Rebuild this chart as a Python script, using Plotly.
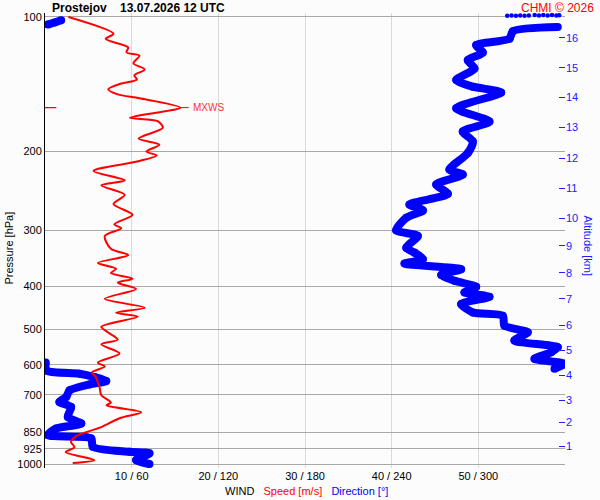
import math
import plotly.graph_objects as go

# wind speed profile (red) - pressure [hPa] / speed [m/s]
speed_pressure = [100, 109, 112, 117, 120, 122, 127, 131, 135, 138,
                  141, 145, 149, 152, 159.5, 168, 171, 177, 187, 193,
                  200, 204, 210, 221, 232, 238, 250, 262, 277, 291,
                  297, 309, 330, 341, 355, 366, 374, 385, 393, 406,
                  427, 447, 459, 468, 493, 508, 527, 540, 566, 593,
                  605, 624, 640, 657, 674, 702, 728, 739, 766, 790,
                  827, 866, 893, 917, 940, 980, 995]
speed_ms = [2.7, 7.9, 7.0, 9.6, 9.4, 10.9, 10.2, 11.5, 10.3, 10.6,
            8.7, 7.3, 8.4, 10.9, 15.6, 9.8, 13.0, 13.6, 10.8, 13.2,
            11.7, 12.9, 10.9, 5.6, 9.2, 6.5, 9.2, 7.9, 10.1, 8.0,
            8.8, 6.9, 7.6, 9.6, 6.1, 8.2, 7.6, 10.1, 8.4, 10.5,
            6.9, 11.5, 8.2, 10.7, 6.5, 7.3, 8.4, 6.5, 8.6, 6.1,
            6.9, 5.4, 5.9, 6.1, 6.3, 6.5, 7.6, 7.1, 11.1, 8.6,
            6.5, 3.6, 3.0, 3.4, 2.4, 5.7, 3.2]

# wind direction profile (blue), split where it wraps 360 -> 0
dir_top_p = [101.7, 102.9, 104.0]
dir_top_deg = [11.2, 6.6, 1.9]
dir_mid_p = [105.3, 107.6, 111.8, 115.6, 120.1, 124.9, 130.4, 138.3, 143.2, 147.5,
             160.1, 171.4, 180.4, 189.9, 201.6, 219.5, 225.2, 237.0, 248.7, 262.6,
             270.8, 281.3, 300.1, 309.0, 328.1, 336.6, 348.3, 356.2, 366.6, 377.5,
             389.3, 401.4, 413.4, 422.6, 438.6, 458.0, 465.8, 490.3, 507.4, 529.4,
             547.9, 562.1, 581.5, 596.6, 612.1]
dir_mid_deg = [355.0, 323.9, 321.6, 298.5, 303.1, 292.7, 297.3, 284.7, 296.2, 315.8,
               284.7, 307.7, 289.2, 296.2, 292.7, 280.0, 289.2, 270.8, 278.9, 252.3,
               261.6, 250.1, 243.1, 258.1, 250.1, 255.8, 261.6, 248.9, 288.1, 274.3,
               283.5, 298.5, 290.4, 307.7, 288.1, 296.2, 316.9, 318.1, 334.2, 325.0,
               355.0, 350.4, 338.9, 359.6, 352.7]
dir_low_p = [593, 617.5, 628.0, 639.1, 652.3, 663.5, 684.2, 708.1, 726.5, 745.4,
             784.6, 811.6, 832.6, 861.7, 876.4, 915.1, 938.8, 946.6, 979.7, 1000]
dir_low_deg = [0.5, 1.0, 23.9, 34.3, 42.4, 30.8, 17.0, 14.7, 10.0, 18.1,
               15.8, 25.1, 7.8, 1.9, 32.0, 33.1, 58.5, 72.3, 63.1, 72.3]

# points just above the 100 hPa level
dots_p = [99.4, 99.2, 99.4, 99.2, 99.4, 99.2, 99.0, 99.2, 99.0, 99.2, 99.0, 99.2, 99.1]
dots_deg = [320, 323, 326, 329, 332, 335, 339, 342, 345, 348, 351, 354, 356]

# max wind
mxws_p = 159.5
mxws_speed = 15.6

pressure_ticks = [100, 200, 300, 400, 500, 600, 700, 850, 925, 1000]
speed_ticks = [10, 20, 30, 40, 50]
direction_ticks = [60, 120, 180, 240, 300]
alt_km = [1, 2, 3, 4, 5, 6, 7, 8, 9, 10, 11, 12, 13, 14, 15, 16]
alt_pressure = [911.7, 806.3, 720.3, 633.6, 557.4, 490.1, 427.0, 373.6,
                325.3, 281.8, 241.6, 207.2, 176.7, 151.5, 129.9, 111.4]

RED = "#ff0000"
BLUE = "#0000ff"
ALT_BLUE = "#2020ff"
FONT = "Liberation Sans, Arial, sans-serif"

dir_x = dir_top_deg + [None] + dir_mid_deg + [None] + dir_low_deg
dir_y = dir_top_p + [None] + dir_mid_p + [None] + dir_low_p

fig = go.Figure()

# direction: thick blue band
fig.add_trace(go.Scatter(
    x=dir_x, y=dir_y, mode="lines+markers",
    line=dict(color=BLUE, width=8, shape="spline", smoothing=0.7),
    marker=dict(color=BLUE, size=8),
    connectgaps=False, xaxis="x", yaxis="y", hoverinfo="skip"))

fig.add_trace(go.Scatter(
    x=dots_deg, y=dots_p, mode="markers",
    marker=dict(color=BLUE, size=4.5),
    xaxis="x", yaxis="y", hoverinfo="skip"))

# speed: thin red line on its own x axis
fig.add_trace(go.Scatter(
    x=speed_ms, y=speed_pressure, mode="lines",
    line=dict(color=RED, width=2, shape="spline", smoothing=0.8),
    xaxis="x2", yaxis="y2", hoverinfo="skip"))

# MXWS mark on the left axis
fig.add_trace(go.Scatter(
    x=[0, 1.3], y=[mxws_p, mxws_p], mode="lines",
    line=dict(color=RED, width=1.2),
    xaxis="x2", yaxis="y2", hoverinfo="skip"))

# a little headroom above 100 hPa for the dots
y_range = [math.log10(1000) + 0.0089, math.log10(100) - 0.0089]

fig.update_layout(
    width=600, height=500,
    margin=dict(l=45, r=35, t=11, b=32),
    paper_bgcolor="#fcfcfc", plot_bgcolor="#fcfcfc",
    showlegend=False,
    font=dict(family=FONT, size=11, color="black"),
    xaxis=dict(
        range=[0, 360], tickmode="array",
        tickvals=direction_ticks + [360],
        ticktext=[f"{s} / {d}" for s, d in zip(speed_ticks, direction_ticks)] + [""],
        showgrid=True, gridcolor="#d9d9d9", gridwidth=1,
        zeroline=False, showline=False, ticks="",
        tickfont=dict(size=11, color="black")),
    yaxis=dict(
        type="log", range=y_range, tickmode="array",
        tickvals=pressure_ticks, ticktext=[str(p) for p in pressure_ticks],
        showgrid=True, gridcolor="#a8a8a8", gridwidth=1,
        zeroline=False, showline=True, linecolor="black", linewidth=1,
        ticks="", tickfont=dict(size=11, color="black")),
    xaxis2=dict(overlaying="x", range=[0, 60], visible=False),
    yaxis2=dict(
        overlaying="y", side="right", type="log", range=y_range,
        tickmode="array", tickvals=alt_pressure,
        ticktext=[str(k) for k in alt_km],
        showgrid=False, zeroline=False, showline=False,
        ticks="inside", ticklen=6, tickcolor=ALT_BLUE, tickwidth=1,
        tickfont=dict(size=11, color=ALT_BLUE)),
)

# black line at 100 hPa (log axis -> log value), over the grid, under the traces
fig.add_shape(type="line", xref="paper", yref="y",
              x0=0, x1=1.048, y0=math.log10(100), y1=math.log10(100),
              line=dict(color="black", width=1), layer="between")

annotations = [
    dict(text="<b>Prostejov&nbsp;&nbsp;&nbsp; 13.07.2026 12 UTC</b>",
         xref="paper", yref="y", x=0, y=math.log10(100), xanchor="left", yanchor="bottom",
         xshift=5, showarrow=False, font=dict(size=12, color="black")),
    dict(text="CHMI © 2026",
         xref="paper", yref="y", x=1, y=math.log10(100), xanchor="right", yanchor="bottom",
         xshift=31, showarrow=False, font=dict(size=12, color=RED)),
    dict(text="Pressure [hPa]", textangle=-90,
         xref="paper", yref="paper", x=0, y=0.5, xanchor="center", yanchor="middle",
         xshift=-37, yshift=-8, showarrow=False, font=dict(size=11, color="black")),
    dict(text="Altitude [km]", textangle=90,
         xref="paper", yref="paper", x=1, y=0.5, xanchor="center", yanchor="middle",
         xshift=23, yshift=-5, showarrow=False, font=dict(size=11, color=ALT_BLUE)),
    dict(text="WIND&nbsp;&nbsp; <span style='color:#ff0000'>Speed [m/s]</span>"
              "&nbsp;&nbsp; <span style='color:#0000ff'>Direction [°]</span>",
         xref="paper", yref="paper", x=0.5, y=0, xanchor="center", yanchor="middle",
         xshift=1, yshift=-23, showarrow=False, font=dict(size=11, color="black")),
    dict(text="MXWS", xref="x2", yref="y2", x=mxws_speed, y=math.log10(mxws_p),
         xanchor="left", yanchor="middle", xshift=11, showarrow=False,
         font=dict(size=10, color="#ff3333")),
    dict(text="", xref="x2", yref="y2", x=mxws_speed, y=math.log10(mxws_p),
         showarrow=True, arrowhead=0, arrowwidth=1, arrowcolor=RED, ax=10, ay=0),
    dict(text="", xref="x2", yref="y2", x=60.35, y=math.log10(mxws_p),
         showarrow=True, arrowhead=0, arrowwidth=1, arrowcolor=RED, ax=-13, ay=0),
]
fig.update_layout(annotations=annotations)

# drop the default page margin so the 600x500 figure fills the window
fig.write_html("out.html", config={"displayModeBar": False},
               post_script="document.body.style.margin = '0px';")
